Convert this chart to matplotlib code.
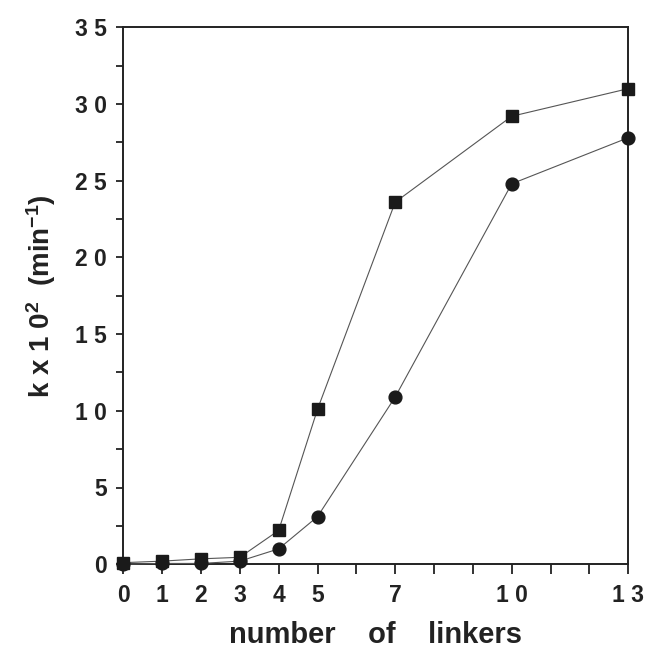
import numpy as np
import matplotlib
matplotlib.use("Agg")
import matplotlib.pyplot as plt
from matplotlib.ticker import MultipleLocator, FixedLocator

# values
linkers = [0, 1, 2, 3, 4, 5, 7, 10, 13]
k_squares = [0.1, 0.2, 0.35, 0.45, 2.2, 10.1, 23.6, 29.2, 31.0]
k_circles = [0.0, 0.05, 0.05, 0.2, 1.0, 3.1, 10.9, 24.8, 27.8]

x_tick_pos = [0, 1, 2, 3, 4, 5, 7, 10, 13]
x_tick_labels = ["0", "1", "2", "3", "4", "5", "7", "1 0", "1 3"]
y_tick_pos = [0, 5, 10, 15, 20, 25, 30, 35]
y_tick_labels = ["0", "5", "1 0", "1 5", "2 0", "2 5", "3 0", "3 5"]

plt.rcParams["font.family"] = ["Liberation Sans", "DejaVu Sans"]
plt.rcParams["font.weight"] = "bold"
plt.rcParams["mathtext.fontset"] = "custom"
plt.rcParams["mathtext.rm"] = "Liberation Sans:bold"
plt.rcParams["mathtext.it"] = "Liberation Sans:bold"
plt.rcParams["mathtext.bf"] = "Liberation Sans:bold"
plt.rcParams["mathtext.default"] = "rm"

fig = plt.figure(figsize=(6.49, 6.5), dpi=100)
ax = fig.add_axes([0.190, 0.132, 0.778, 0.826])

ax.plot(linkers, k_squares, color="#555555", lw=0.8, marker="s", ms=8.5,
        mfc="#1a1a1a", mec="#1a1a1a", zorder=3, clip_on=False)
ax.plot(linkers, k_circles, color="#555555", lw=0.8, marker="o", ms=9.2,
        mfc="#1a1a1a", mec="#1a1a1a", zorder=3, clip_on=False)

ax.set_xlim(0, 13)
ax.set_ylim(0, 35)

ax.xaxis.set_major_locator(FixedLocator(x_tick_pos))
ax.set_xticklabels(x_tick_labels)
ax.xaxis.set_minor_locator(MultipleLocator(1))
ax.yaxis.set_major_locator(FixedLocator(y_tick_pos))
ax.set_yticklabels(y_tick_labels)
ax.yaxis.set_minor_locator(MultipleLocator(2.5))

ax.tick_params(axis="both", which="both", direction="out", width=1.3,
               color="#222222", labelsize=16.5, labelcolor="#222222")
ax.tick_params(axis="x", which="both", length=7, pad=7)
ax.tick_params(axis="y", which="both", length=5, pad=7)

for side in ax.spines:
    ax.spines[side].set_linewidth(1.4)
    ax.spines[side].set_color("#222222")

ax.set_xlabel("number    of    linkers", fontsize=21, fontweight="bold",
              color="#222222", labelpad=10)
ax.set_ylabel("k x 1 0$^{2}$  (min$^{-1}$)", fontsize=20, fontweight="bold",
              color="#222222", labelpad=12)

fig.savefig("out.png", dpi=100)
